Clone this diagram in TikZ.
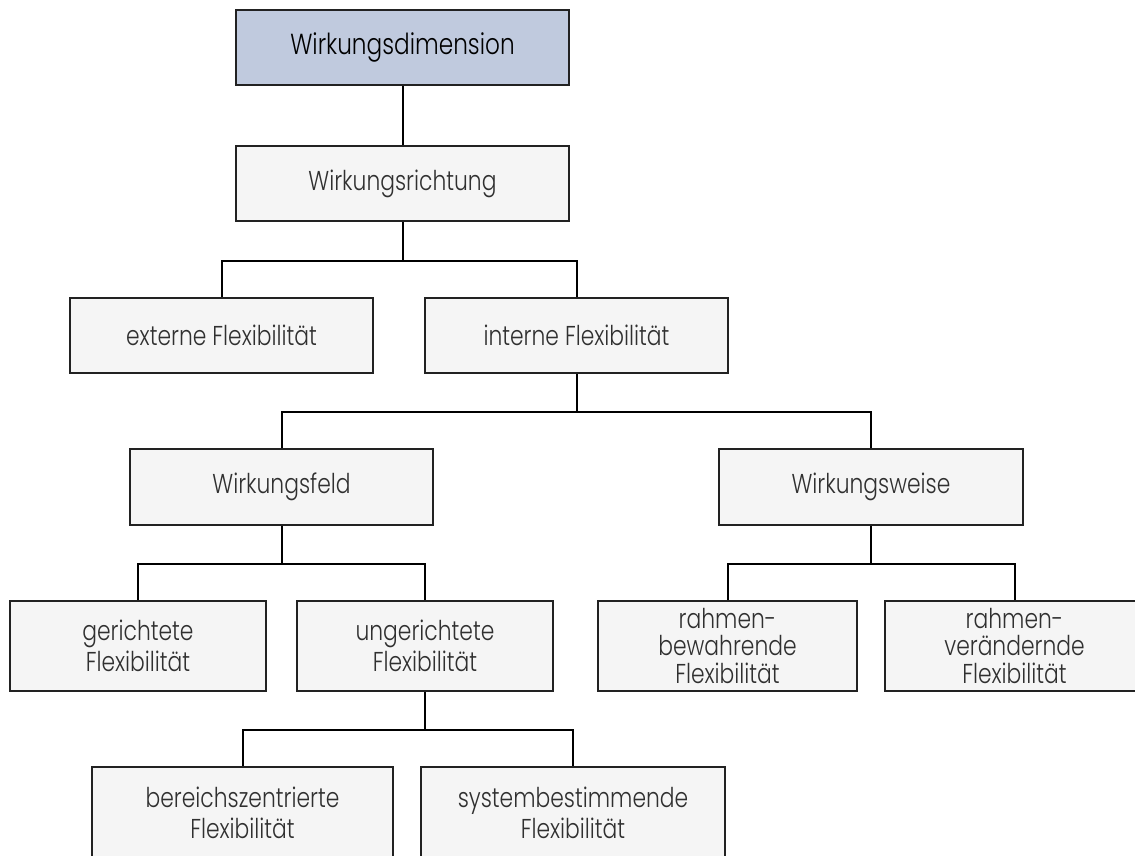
\documentclass[tikz,border=0pt]{standalone}
\usepackage{fontspec}
\IfFontExistsTF{Poppins Light}{\setmainfont{Poppins Light}[FakeStretch=0.80]}{\setmainfont{Poppins}[FakeStretch=0.80]}
\definecolor{titlefill}{RGB}{192,202,222}
\definecolor{boxfill}{RGB}{245,245,245}
\definecolor{boxline}{RGB}{34,34,34}
\definecolor{txt}{RGB}{48,48,48}
\begin{document}
\begin{tikzpicture}[x=1pt,y=-1pt,
  box/.style={draw=boxline, line width=2pt, fill=boxfill, text=txt, align=center,
    inner sep=0pt, font=\fontsize{27.3}{30.5}\selectfont},
  box3/.style={box, font=\fontsize{27.3}{27.5}\selectfont},
  conn/.style={draw=black, line width=2pt}]
\useasboundingbox (0,0) rectangle (1135,856);
\clip (0,0) rectangle (1135,856);
\fill[white] (0,0) rectangle (1135,856);
% nodes
\node[box, fill=titlefill, text=black, minimum width=333pt, minimum height=75pt,
  font=\fontsize{29}{34}\selectfont] (dim) at (402.5,47.5) {Wirkungsdimension};
\node[box, minimum width=333pt, minimum height=75pt] (rich) at (402.5,183.5) {Wirkungsrichtung};
\node[box, minimum width=303pt, minimum height=75pt] (ext) at (221.5,335.5) {externe Flexibilität};
\node[box, minimum width=303pt, minimum height=75pt] (int) at (576.5,335.5) {interne Flexibilität};
\node[box, minimum width=303pt, minimum height=76pt] (feld) at (281.5,487) {Wirkungsfeld};
\node[box, minimum width=304pt, minimum height=76pt] (weise) at (871,487) {Wirkungsweise};
\node[box, minimum width=256pt, minimum height=90pt] (ger) at (138,646) {gerichtete\\Flexibilität};
\node[box, minimum width=256pt, minimum height=90pt] (unger) at (425,646) {ungerichtete\\Flexibilität};
\node[box3, minimum width=259pt, minimum height=90pt] (bew) at (727.5,646) {rahmen-\\bewahrende\\Flexibilität};
\node[box3, minimum width=259pt, minimum height=90pt] (ver) at (1014.5,646) {rahmen-\\verändernde\\Flexibilität};
\node[box, minimum width=301pt, minimum height=92pt] (ber) at (242.5,813) {bereichszentrierte\\Flexibilität};
\node[box, minimum width=304pt, minimum height=92pt] (sys) at (573,813) {systembestimmende\\Flexibilität};
% connectors
\draw[conn] (dim.south) -- (rich.north);
\draw[conn] (rich.south) -- ++(0,38.5) -| (ext.north);
\draw[conn] (rich.south) -- ++(0,38.5) -| (int.north);
\draw[conn] (int.south) -- ++(0,37.5) -| (feld.north);
\draw[conn] (int.south) -- ++(0,37.5) -| (weise.north);
\draw[conn] (feld.south) -- ++(0,37.5) -| (ger.north);
\draw[conn] (feld.south) -- ++(0,37.5) -| (unger.north);
\draw[conn] (weise.south) -- ++(0,37.5) -| (bew.north);
\draw[conn] (weise.south) -- ++(0,37.5) -| (ver.north);
\draw[conn] (unger.south) -- ++(0,38) -| (ber.north);
\draw[conn] (unger.south) -- ++(0,38) -| (sys.north);
\end{tikzpicture}
\end{document}
